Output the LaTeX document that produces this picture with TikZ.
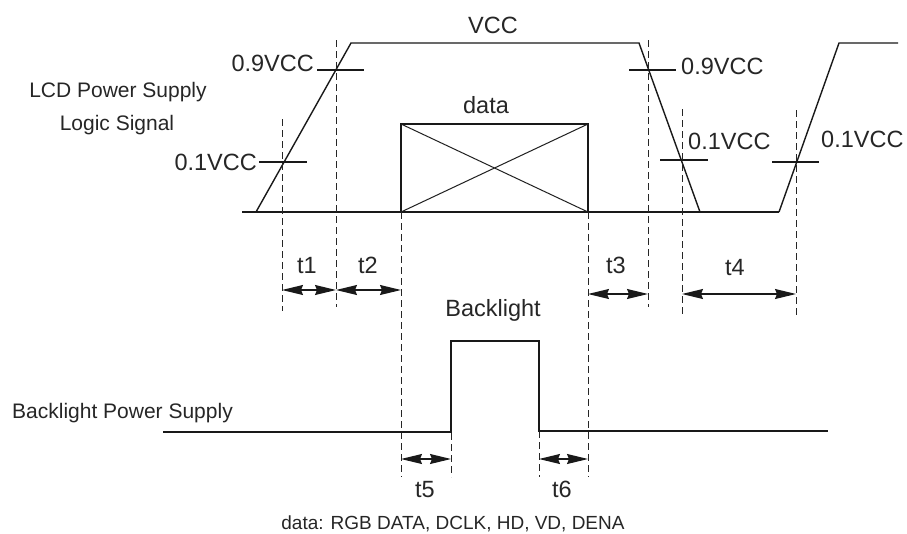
\documentclass[tikz,border=0pt]{standalone}
\usepackage{fontspec}
\setmainfont{Liberation Sans}
\usetikzlibrary{arrows.meta}
\begin{document}
\begin{tikzpicture}[x=1pt,y=-1pt,
  wave/.style={line width=1.4pt, draw=black!90, line join=miter},
  guide/.style={line width=0.9pt, dash pattern=on 7pt off 4pt, draw=black!85},
  tickmark/.style={line width=1.2pt, draw=black!90},
  dim/.style={line width=1.2pt, draw=black!90,
    {Stealth[length=21pt,width=10pt,inset=2pt]}-{Stealth[length=21pt,width=10pt,inset=2pt]}},
  lbl/.style={font=\fontsize{23.5}{27}\selectfont, text=black!85, inner sep=0pt},
  side/.style={font=\fontsize{21}{25}\selectfont, text=black!85, inner sep=0pt},
  note/.style={font=\fontsize{19}{23}\selectfont, text=black!85, inner sep=0pt},
  ]
\useasboundingbox (0,0) rectangle (907,533);

% guide coordinates
\coordinate (gA) at (282,290);
\coordinate (gB) at (336,290);
\coordinate (gC) at (401,290);
\coordinate (gD) at (588,294);
\coordinate (gE) at (648,294);
\coordinate (gF) at (682,294);
\coordinate (gG) at (796,294);
\coordinate (gH) at (401,459);
\coordinate (gI) at (451,459);
\coordinate (gJ) at (539,459);
\coordinate (gK) at (588,459);

% LCD power supply waveform
\draw[wave] (242,212) -- (779,212);
\draw[wave] (256,212) -- (351,43) -- (639,43) -- (700,212);
\draw[wave] (779,212) -- (839,43) -- (898,43);

% data box
\draw[wave] (401,124) rectangle (588,212);
\draw[line width=1pt, draw=black!88] (401,124) -- (588,212) (401,212) -- (588,124);

% threshold ticks
\draw[tickmark] (259,162) -- (307,162);
\draw[tickmark] (317,70) -- (364,70);
\draw[tickmark] (629,70) -- (676,70);
\draw[tickmark] (660,160) -- (708,160);
\draw[tickmark] (772,162) -- (819,162);

% dashed guides
\draw[guide] (282,119) -- (282,311);
\draw[guide] (336,40) -- (336,307);
\draw[guide] (401,212) -- (401,477);
\draw[guide] (588,212) -- (588,477);
\draw[guide] (648,40) -- (648,307);
\draw[guide] (682,109) -- (682,315);
\draw[guide] (796,110) -- (796,315);
\draw[guide] (451,433) -- (451,477);
\draw[guide] (539,431) -- (539,477);

% backlight pulse
\draw[wave] (163,432) -- (451,432) -- (451,341) -- (539,341) -- (539,431) -- (828,431);

% dimension arrows
\draw[dim] (gA) -- (gB);
\draw[dim] (gB) -- (gC);
\draw[dim] (gD) -- (gE);
\draw[dim] (gF) -- (gG);
\draw[dim] (gH) -- (gI);
\draw[dim] (gJ) -- (gK);

% labels
\node[lbl, anchor=base] (vcc) at (493,33) {VCC};
\node[lbl, anchor=base east] (l09a) at (314,71) {0.9VCC};
\node[lbl, anchor=base east] (l01a) at (257,170) {0.1VCC};
\node[lbl, anchor=base west] (l09b) at (681,74) {0.9VCC};
\node[lbl, anchor=base west] (l01b) at (688,149) {0.1VCC};
\node[lbl, anchor=base west] (l01c) at (821,147) {0.1VCC};
\node[lbl, anchor=base] (data) at (486,113) {data};
\node[side, anchor=base] (lcd) at (118,97) {LCD Power Supply};
\node[side, anchor=base] (logic) at (117,130) {Logic Signal};
\node[lbl, anchor=base] (t1) at (307,273) {t1};
\node[lbl, anchor=base] (t2) at (368,273) {t2};
\node[lbl, anchor=base] (t3) at (616,273) {t3};
\node[lbl, anchor=base] (t4) at (735,275) {t4};
\node[lbl, anchor=base] (bl) at (493,316) {Backlight};
\node[side, anchor=base west] (bps) at (12,418) {Backlight Power Supply};
\node[lbl, anchor=base] (t5) at (425,497) {t5};
\node[lbl, anchor=base] (t6) at (562,497) {t6};
\node[note, anchor=base] (notel) at (453,529) {data: RGB DATA, DCLK, HD, VD, DENA};
\end{tikzpicture}
\end{document}
